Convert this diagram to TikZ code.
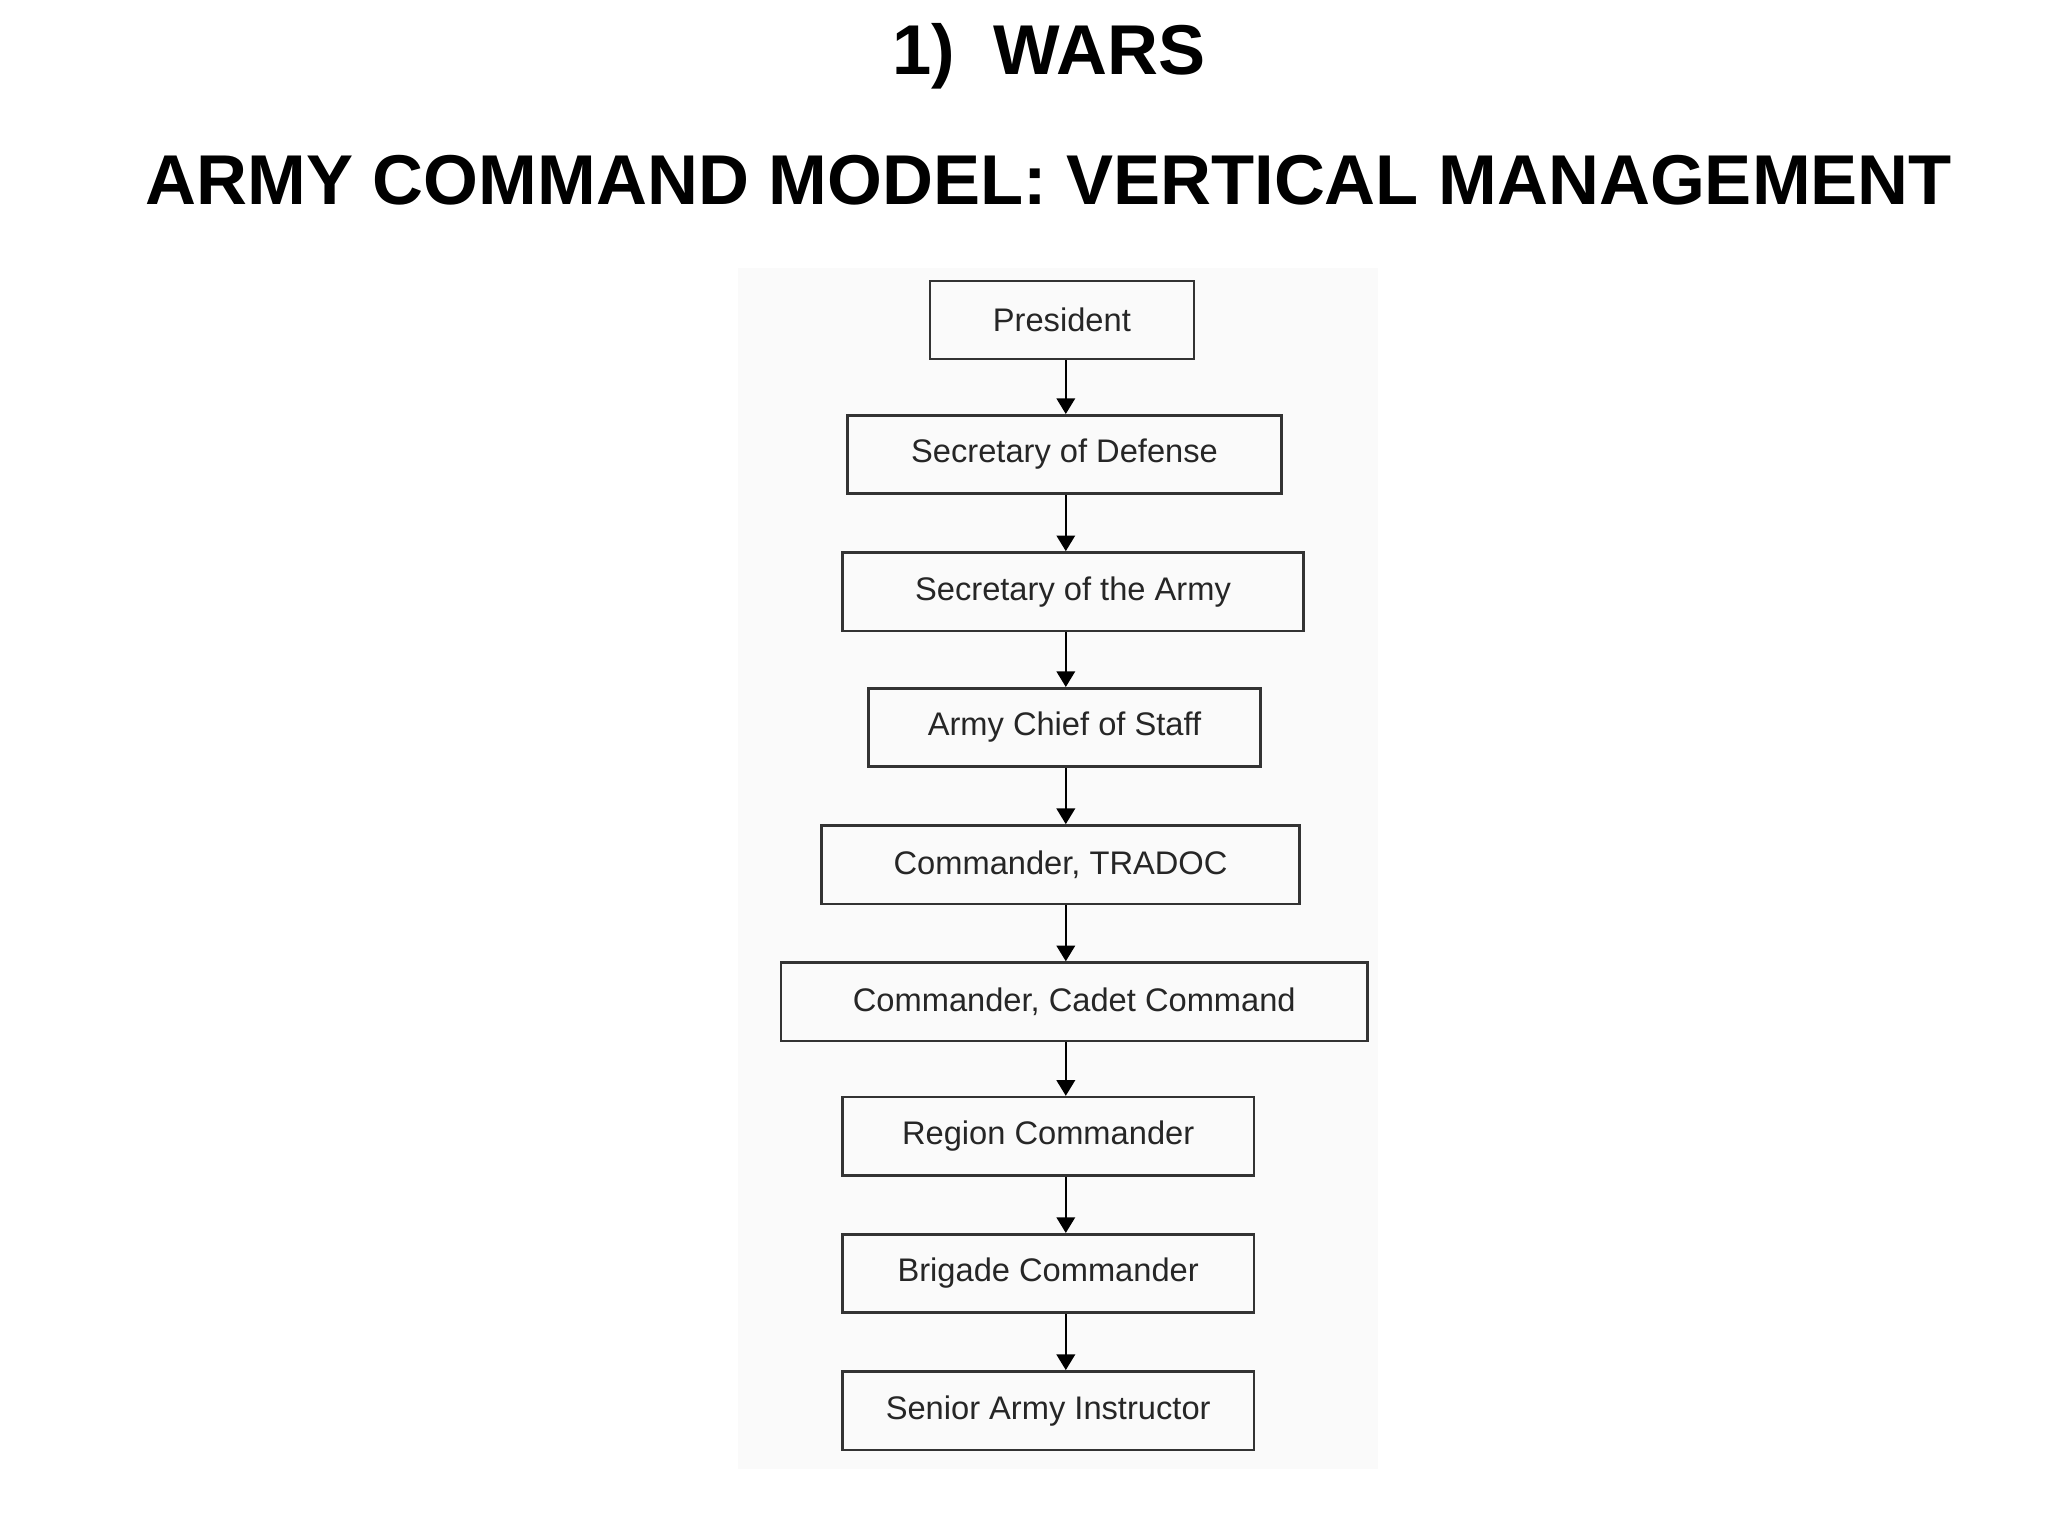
\documentclass[tikz,border=0pt]{standalone}
\usepackage{fontspec}
\setmainfont{Liberation Sans}
\usetikzlibrary{arrows.meta}
\begin{document}
\begin{tikzpicture}[x=0.5pt,y=-0.5pt,
  box/.style={draw=black!80,line width=1pt,inner sep=0pt,font=\fontsize{12.5}{14}\selectfont,text=black!85},
  arr/.style={-{Triangle[length=6pt,width=7pt]},line width=1pt}]
\useasboundingbox (0,0) rectangle (1568,1176);
\fill[black!2] (565,205) rectangle (1055,1125);
\node[font=\bfseries\fontsize{27}{30}\selectfont] (t1) at (803,43) {1)\ \ WARS};
\node[font=\bfseries\fontsize{27}{30}\selectfont] (t2) at (803,138) {ARMY COMMAND MODEL: VERTICAL MANAGEMENT};
\newcommand{\bx}[6]{\node[box,minimum width={(#4-#2)*0.5pt},minimum height={(#5-#3)*0.5pt}] (#1) at ({(#2+#4)/2},{(#3+#5)/2}) {#6};}
\bx{p}{712}{215}{914}{275}{President}
\bx{sd}{649}{318}{981}{378}{Secretary of Defense}
\bx{sa}{645}{423}{998}{483}{Secretary of the Army}
\bx{cs}{665}{527}{965}{587}{Army Chief of Staff}
\bx{tr}{629}{632}{995}{692}{Commander, TRADOC}
\bx{cc}{598}{737}{1047}{797}{Commander, Cadet Command}
\bx{rc}{645}{840}{960}{900}{Region Commander}
\bx{bc}{645}{945}{960}{1005}{Brigade Commander}
\bx{sai}{645}{1050}{960}{1110}{Senior Army Instructor}
\foreach \a/\b in {p/sd,sd/sa,sa/cs,cs/tr,tr/cc,cc/rc,rc/bc,bc/sai}
  \draw[arr] (\a.south -| 816,0) -- (\b.north -| 816,0);
\end{tikzpicture}
\end{document}
